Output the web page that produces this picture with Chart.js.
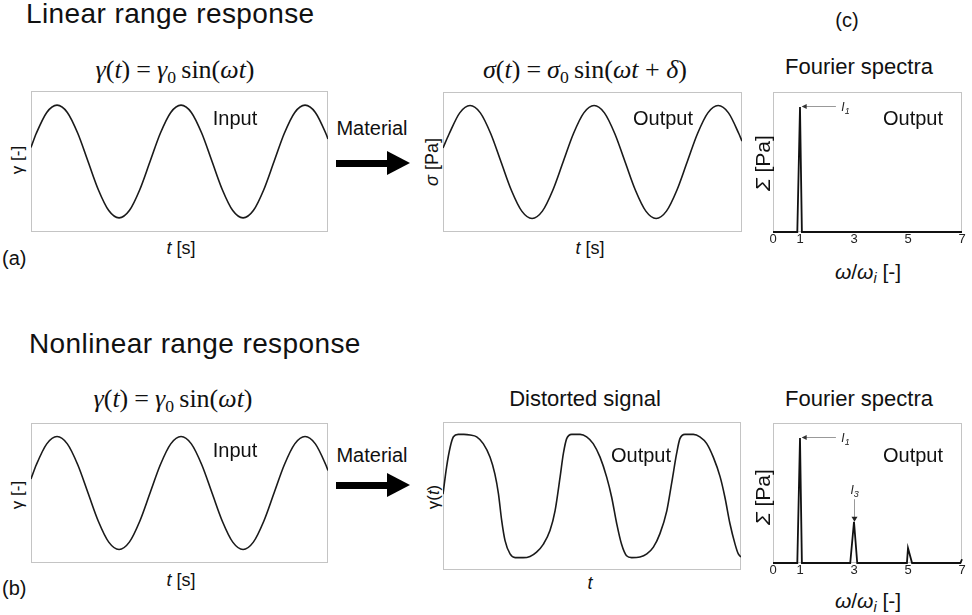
<!DOCTYPE html>
<html>
<head>
<meta charset="utf-8">
<script src="https://cdn.jsdelivr.net/npm/chart.js@4.4.1/dist/chart.umd.min.js"></script>
<style>
  body { margin:0; width:972px; height:615px; background:#fff; position:relative; overflow:hidden;
         font-family:"Liberation Sans", Arial, sans-serif; color:#111; }
  .t { position:absolute; transform:translate(-50%,-50%); white-space:nowrap; line-height:1; }
  .lv { position:absolute; transform:translate(0,-50%); white-space:nowrap; line-height:1; }
  .rot { transform:translate(-50%,-50%) rotate(-90deg); }
  .math { font-family:"Liberation Serif","Times New Roman",serif; font-size:26px; }
  .math .eq { margin:0 6px; }
  sub { font-size:68%; vertical-align:-0.3em; line-height:0; }
  canvas { position:absolute; }
  .shaft { position:absolute; background:#000; width:52px; height:7px; left:336px; }
  .head { position:absolute; width:0; height:0; left:387px;
          border-left:23px solid #000; border-top:12.5px solid transparent; border-bottom:12.5px solid transparent; }
</style>
</head>
<body>

<div class="lv" style="left:26px;top:14px;font-size:28px;letter-spacing:0.4px">Linear range response</div>
<div class="lv" style="left:29px;top:344px;font-size:28px;letter-spacing:0.4px">Nonlinear range response</div>
<div class="t" style="left:847px;top:20px;font-size:20px">(c)</div>
<div class="lv" style="left:2px;top:258px;font-size:20px">(a)</div>
<div class="lv" style="left:2px;top:588px;font-size:20px">(b)</div>

<!-- formulas and panel titles -->
<div class="t math" style="left:175px;top:70px"><i>γ</i>(<i>t</i>)<span class="eq">=</span><i>γ</i><sub>0</sub>&thinsp;sin(<i>ωt</i>)</div>
<div class="t math" style="left:585px;top:70px"><i>σ</i>(<i>t</i>)<span class="eq">=</span><i>σ</i><sub>0</sub>&thinsp;sin(<i>ωt</i> + <i>δ</i>)</div>
<div class="t" style="left:859px;top:67px;font-size:22px">Fourier spectra</div>
<div class="t math" style="left:173px;top:399px"><i>γ</i>(<i>t</i>)<span class="eq">=</span><i>γ</i><sub>0</sub>&thinsp;sin(<i>ωt</i>)</div>
<div class="t" style="left:585px;top:399px;font-size:22px">Distorted signal</div>
<div class="t" style="left:859px;top:399px;font-size:22px">Fourier spectra</div>

<!-- material arrows -->
<div class="t" style="left:372px;top:128px;font-size:20px">Material</div>
<div class="shaft" style="top:160px"></div><div class="head" style="top:151px"></div>
<div class="t" style="left:372px;top:455px;font-size:20px">Material</div>
<div class="shaft" style="top:482px"></div><div class="head" style="top:473px"></div>

<canvas id="inTop" width="297" height="141" style="left:31px;top:91px"></canvas>
<canvas id="outTop" width="299" height="140" style="left:443px;top:92px"></canvas>
<canvas id="specTop" width="213" height="162" style="left:761px;top:92px"></canvas>
<canvas id="inBot" width="297" height="140" style="left:31px;top:423px"></canvas>
<canvas id="outBot" width="298" height="148" style="left:443px;top:422px"></canvas>
<canvas id="specBot" width="213" height="162" style="left:761px;top:423px"></canvas>

<!-- in-panel labels -->
<div class="t" style="left:235px;top:118px;font-size:20px">Input</div>
<div class="t" style="left:663px;top:118px;font-size:20px">Output</div>
<div class="t" style="left:913px;top:118px;font-size:20px">Output</div>
<div class="t" style="left:235px;top:450px;font-size:20px">Input</div>
<div class="t" style="left:641px;top:455px;font-size:20px">Output</div>
<div class="t" style="left:913px;top:455px;font-size:20px">Output</div>

<!-- axis labels -->
<div class="t rot" style="left:17px;top:160px;font-size:17px">γ [-]</div>
<div class="t" style="left:181px;top:248px;font-size:18px"><i>t</i> [s]</div>
<div class="t rot" style="left:432px;top:162px;font-size:18px"><i>σ</i> [Pa]</div>
<div class="t" style="left:590px;top:248px;font-size:18px"><i>t</i> [s]</div>
<div class="t rot" style="left:762px;top:163px;font-size:21px"><i>Σ</i> [Pa]</div>
<div class="t" style="left:868px;top:271px;font-size:21px"><i>ω</i>/<i>ω<sub>i</sub></i> [-]</div>
<div class="t rot" style="left:17px;top:495px;font-size:17px">γ [-]</div>
<div class="t" style="left:181px;top:580px;font-size:18px"><i>t</i> [s]</div>
<div class="t rot" style="left:433px;top:497px;font-size:17px">γ(<i>t</i>)</div>
<div class="t" style="left:590px;top:583px;font-size:18px"><i>t</i></div>
<div class="t rot" style="left:762px;top:497px;font-size:21px"><i>Σ</i> [Pa]</div>
<div class="t" style="left:868px;top:600px;font-size:21px"><i>ω</i>/<i>ω<sub>i</sub></i> [-]</div>

<script>
// input strain (t in periods)
const tIn = [0, 0.043, 0.127, 0.21, 0.293, 0.377, 0.46, 0.543, 0.627, 0.71, 0.793, 0.877, 0.96,
  1.043, 1.127, 1.21, 1.293, 1.377, 1.46, 1.543, 1.627, 1.71, 1.793, 1.877, 1.96,
  2.043, 2.127, 2.21, 2.293, 2.377, 2.395];
const gammaIn = [0.25, 0.5, 0.87, 1, 0.87, 0.5, 0, -0.5, -0.87, -1, -0.87, -0.5, 0,
  0.5, 0.87, 1, 0.87, 0.5, 0, -0.5, -0.87, -1, -0.87, -0.5, 0,
  0.5, 0.87, 1, 0.87, 0.5, 0.4];

// linear output stress
const tOut = [0, 0.05, 0.135, 0.218, 0.301, 0.385, 0.468, 0.551, 0.635, 0.718, 0.801, 0.885, 0.968,
  1.051, 1.135, 1.218, 1.301, 1.385, 1.468, 1.551, 1.635, 1.718, 1.801, 1.885, 1.968,
  2.051, 2.135, 2.218, 2.301, 2.385, 2.41];
const sigmaOut = [0.25, 0.5, 0.87, 1, 0.87, 0.5, 0, -0.5, -0.87, -1, -0.87, -0.5, 0,
  0.5, 0.87, 1, 0.87, 0.5, 0, -0.5, -0.87, -1, -0.87, -0.5, 0,
  0.5, 0.87, 1, 0.87, 0.5, 0.37];

// distorted output (t in % of the window)
const tDist = [0, 1.2, 2.4, 3.5, 5.1, 7, 9.1, 11.3, 13.5, 15.8, 17.4, 18.6, 19.7, 20.8, 22.5, 24.2,
  26.9, 29.2, 31.4, 33.7, 35.9, 37.6, 39.3, 40.4, 41.5, 43.2, 46, 48.2, 50.4, 52.7, 54.9, 56.6,
  58.3, 59.9, 61.6, 63.3, 66.1, 68.4, 70.6, 72.8, 75.1, 76.7, 78.4, 79.5, 81.2, 84, 86.2, 88.5,
  90.7, 93, 94.6, 96.3, 98, 99.1, 100];
const gammaDist = [0.03, 0.47, 0.79, 0.96, 1, 1, 0.99, 0.96, 0.85, 0.63, 0.36, 0.04, -0.4, -0.72, -0.94, -1,
  -1, -0.98, -0.91, -0.78, -0.56, -0.24, 0.31, 0.69, 0.93, 1, 1, 0.96, 0.85, 0.63, 0.31, -0.02,
  -0.45, -0.78, -0.97, -1, -0.99, -0.94, -0.83, -0.61, -0.24, 0.2, 0.69, 0.93, 1, 1, 0.96, 0.85,
  0.63, 0.31, -0.02, -0.45, -0.78, -0.94, -0.99];

// Fourier spectra
const specTicks = [0, 1, 3, 5, 7];
const freqLin = [0, 0.9, 1.0, 1.07, 7];
const ampLin = [0, 0, 1.0, 0, 0];
const freqNl = [0, 0.9, 1.0, 1.07, 2.86, 3.0, 3.12, 4.96, 5.0, 5.15, 6.94, 7.0];
const ampNl = [0, 0, 1.0, 0, 0, 0.33, 0, 0, 0.12, 0, 0, 0.03];

const pts = (xs, ys) => xs.map((x, i) => ({ x: x, y: ys[i] }));

// light grey box round each plot area
const frame = {
  id: 'frame',
  beforeDatasetsDraw(chart) {
    const a = chart.chartArea, ctx = chart.ctx;
    ctx.save();
    ctx.strokeStyle = '#c4c4c4';
    ctx.lineWidth = 1;
    ctx.strokeRect(a.left + 0.5, a.top + 0.5, a.right - a.left - 1, a.bottom - a.top - 1);
    ctx.restore();
  }
};

const base = {
  responsive: false, animation: false, events: [],
  plugins: { legend: { display: false }, tooltip: { enabled: false } }
};

function timeChart(id, xs, ys, xMax, yLim) {
  new Chart(document.getElementById(id), {
    type: 'line',
    data: { datasets: [{ data: pts(xs, ys), borderColor: '#1a1a1a', borderWidth: 1.6, pointRadius: 0,
      cubicInterpolationMode: 'monotone', fill: false }] },
    options: Object.assign({}, base, {
      layout: { padding: 0 },
      scales: {
        x: { type: 'linear', display: false, min: 0, max: xMax },
        y: { display: false, min: -yLim, max: yLim }
      }
    }),
    plugins: [frame]
  });
}

function drawIndex(ctx, x, y, sub) {
  ctx.fillStyle = '#222';
  ctx.textBaseline = 'middle';
  ctx.textAlign = 'left';
  ctx.font = 'italic 12px "Liberation Sans"';
  ctx.fillText('I', x, y);
  const w = ctx.measureText('I').width;
  ctx.font = 'italic 9px "Liberation Sans"';
  ctx.fillText(sub, x + w, y + 4);
}

// I1 arrow from the side, I3 marker from above
function peakNotes(withI3) {
  return {
    id: 'peakNotes',
    afterDatasetsDraw(chart) {
      const ctx = chart.ctx, x = chart.scales.x, y = chart.scales.y;
      ctx.save();
      const y1 = Math.round(y.getPixelForValue(ampNl[2])) - 0.5;
      const xa = x.getPixelForValue(1.1), xb = x.getPixelForValue(2.33);
      ctx.strokeStyle = '#999';
      ctx.lineWidth = 1;
      ctx.beginPath(); ctx.moveTo(xa, y1); ctx.lineTo(xb, y1); ctx.stroke();
      ctx.fillStyle = '#333';
      ctx.beginPath(); ctx.moveTo(xa - 1, y1); ctx.lineTo(xa + 4, y1 - 2.5); ctx.lineTo(xa + 4, y1 + 2.5); ctx.fill();
      drawIndex(ctx, x.getPixelForValue(2.53), y1 + 1, '1');
      if (withI3) {
        const x3 = Math.round(x.getPixelForValue(3)) + 0.5;
        const yTop = y.getPixelForValue(0.51), yPk = y.getPixelForValue(ampNl[5]);
        ctx.strokeStyle = '#999';
        ctx.beginPath(); ctx.moveTo(x3, yTop); ctx.lineTo(x3, yPk - 3); ctx.stroke();
        ctx.fillStyle = '#222';
        ctx.beginPath(); ctx.moveTo(x3 - 3, yPk - 5); ctx.lineTo(x3 + 3, yPk - 5); ctx.lineTo(x3, yPk); ctx.fill();
        drawIndex(ctx, x3 - 4, y.getPixelForValue(0.58), '3');
      }
      ctx.restore();
    }
  };
}

function specChart(id, xs, ys, withI3) {
  new Chart(document.getElementById(id), {
    type: 'line',
    data: { datasets: [{ data: pts(xs, ys), borderColor: '#111', borderWidth: 1.8, pointRadius: 0,
      tension: 0, fill: false, clip: false }] },
    options: Object.assign({}, base, {
      layout: { padding: { left: 12, right: 12, top: 0, bottom: 0 } },
      scales: {
        x: {
          type: 'linear', min: 0, max: 7,
          grid: { display: false, drawTicks: false },
          border: { display: false },
          afterBuildTicks: s => { s.ticks = specTicks.map(v => ({ value: v })); },
          afterFit: s => { s.height = 22; },
          ticks: { autoSkip: false, maxRotation: 0, padding: 0, color: '#222',
            font: { family: 'Liberation Sans', size: 13 } }
        },
        y: { display: false, min: 0, max: 1.12 }
      }
    }),
    plugins: [frame, peakNotes(withI3)]
  });
}

timeChart('inTop', tIn, gammaIn, 2.395, 1.25);
timeChart('outTop', tOut, sigmaOut, 2.41, 1.24);
timeChart('inBot', tIn, gammaIn, 2.395, 1.24);
timeChart('outBot', tDist, gammaDist, 100, 1.2);
specChart('specTop', freqLin, ampLin, false);
specChart('specBot', freqNl, ampNl, true);
</script>
</body>
</html>
